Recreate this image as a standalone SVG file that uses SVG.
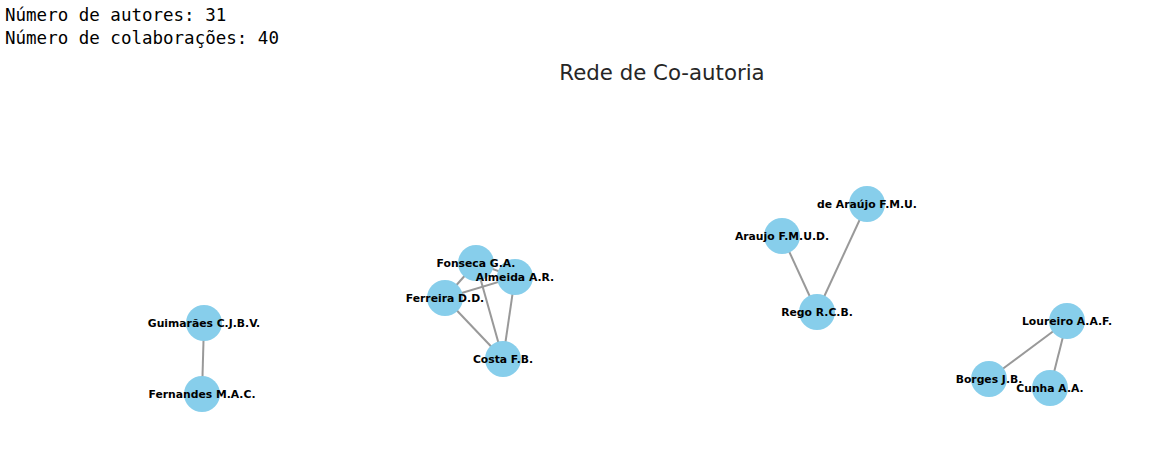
<svg xmlns="http://www.w3.org/2000/svg" width="1153" height="472" viewBox="0 0 1153 472">
<style>
.info{font-family:"DejaVu Sans Mono","Liberation Mono",monospace;font-size:17.5px;fill:#000}
.title{font-family:"DejaVu Sans","Liberation Sans",sans-serif;font-size:21.3px;fill:#262626}
.node circle{fill:#87CEEB}
.lbl{font-family:"DejaVu Sans","Liberation Sans",sans-serif;font-weight:bold;font-size:10.8px;fill:#000;text-anchor:middle;dominant-baseline:central}
#edges line{stroke:#999999;stroke-width:2}
</style>
<rect width="1153" height="472" fill="#fff"/>
<text class="info" x="5" y="21">Número de autores: 31</text>
<text class="info" x="5" y="44">Número de colaborações: 40</text>
<text class="title" x="662" y="80" text-anchor="middle">Rede de Co-autoria</text>
<g id="edges">
<line x1="204" y1="323" x2="202" y2="394"/>
<line x1="476" y1="263" x2="445" y2="298"/>
<line x1="476" y1="263" x2="503" y2="359"/>
<line x1="476" y1="263" x2="515" y2="277"/>
<line x1="515" y1="277" x2="445" y2="298"/>
<line x1="515" y1="277" x2="503" y2="359"/>
<line x1="445" y1="298" x2="503" y2="359"/>
<line x1="782" y1="236" x2="817" y2="312"/>
<line x1="867" y1="204" x2="817" y2="312"/>
<line x1="1067" y1="321" x2="989" y2="379"/>
<line x1="1067" y1="321" x2="1050" y2="388"/>
</g>
<g id="nodes">
<g id="n-guimaraes" class="node"><circle cx="204" cy="323" r="18"/></g>
<g id="n-fernandes" class="node"><circle cx="202" cy="394" r="18"/></g>
<g id="n-fonseca" class="node"><circle cx="476" cy="263" r="18"/></g>
<g id="n-almeida" class="node"><circle cx="515" cy="277" r="18"/></g>
<g id="n-ferreira" class="node"><circle cx="445" cy="298" r="18"/></g>
<g id="n-costa" class="node"><circle cx="503" cy="359" r="18"/></g>
<g id="n-araujo" class="node"><circle cx="782" cy="236" r="18"/></g>
<g id="n-dearaujo" class="node"><circle cx="867" cy="204" r="18"/></g>
<g id="n-rego" class="node"><circle cx="817" cy="312" r="18"/></g>
<g id="n-loureiro" class="node"><circle cx="1067" cy="321" r="18"/></g>
<g id="n-borges" class="node"><circle cx="989" cy="379" r="18"/></g>
<g id="n-cunha" class="node"><circle cx="1050" cy="388" r="18"/></g>
</g>
<g id="labels">
<text class="lbl" id="l-guimaraes" x="204" y="323">Guimarães C.J.B.V.</text>
<text class="lbl" id="l-fernandes" x="202" y="394">Fernandes M.A.C.</text>
<text class="lbl" id="l-fonseca" x="476" y="263">Fonseca G.A.</text>
<text class="lbl" id="l-almeida" x="515" y="277">Almeida A.R.</text>
<text class="lbl" id="l-ferreira" x="445" y="298">Ferreira D.D.</text>
<text class="lbl" id="l-costa" x="503" y="359">Costa F.B.</text>
<text class="lbl" id="l-araujo" x="782" y="236">Araujo F.M.U.D.</text>
<text class="lbl" id="l-dearaujo" x="867" y="204">de Araújo F.M.U.</text>
<text class="lbl" id="l-rego" x="817" y="312">Rego R.C.B.</text>
<text class="lbl" id="l-loureiro" x="1067" y="321">Loureiro A.A.F.</text>
<text class="lbl" id="l-borges" x="989" y="379">Borges J.B.</text>
<text class="lbl" id="l-cunha" x="1050" y="388">Cunha A.A.</text>
</g>
</svg>
